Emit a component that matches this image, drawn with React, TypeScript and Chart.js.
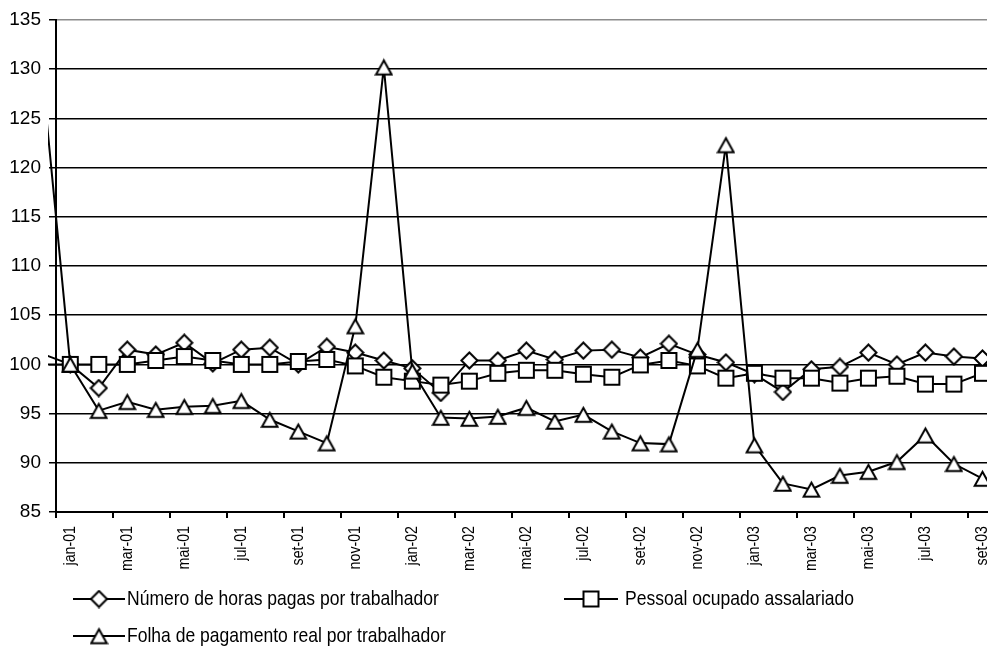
import React, { useEffect, useRef } from "react";
import { Chart, registerables } from "chart.js";

Chart.register(...registerables);

// Month categories (index 0 = dez-00, just before the visible range)
const months = [
  "dez-00",
  "jan-01", "fev-01", "mar-01", "abr-01", "mai-01", "jun-01", "jul-01", "ago-01", "set-01", "out-01", "nov-01", "dez-01",
  "jan-02", "fev-02", "mar-02", "abr-02", "mai-02", "jun-02", "jul-02", "ago-02", "set-02", "out-02", "nov-02", "dez-02",
  "jan-03", "fev-03", "mar-03", "abr-03", "mai-03", "jun-03", "jul-03", "ago-03", "set-03",
];

const horasPagas = [
  101.1,
  100.0, 97.6, 101.5, 101.0, 102.2, 100.1, 101.5, 101.7, 100.0, 101.8, 101.2, 100.4,
  99.6, 97.1, 100.4, 100.4, 101.4, 100.5, 101.4, 101.5, 100.7, 102.1, 101.0, 100.2,
  99.0, 97.2, 99.5, 99.75, 101.2, 100.0, 101.2, 100.8, 100.6,
];

const pessoalOcupado = [
  100.0,
  100.0, 100.0, 100.0, 100.4, 100.8, 100.4, 100.0, 100.0, 100.3, 100.5, 99.85, 98.7,
  98.3, 97.9, 98.3, 99.1, 99.4, 99.4, 99.0, 98.7, 99.95, 100.4, 99.85, 98.6,
  99.1, 98.6, 98.6, 98.1, 98.6, 98.8, 98.0, 98.0, 99.1,
];

const folhaPagamento = [
  130.0,
  100.0, 95.3, 96.2, 95.4, 95.7, 95.8, 96.3, 94.4, 93.2, 92.0, 103.9, 130.2,
  99.3, 94.6, 94.5, 94.7, 95.6, 94.2, 94.9, 93.2, 92.0, 91.9, 101.5, 122.3,
  91.8, 87.9, 87.3, 88.7, 89.1, 90.1, 92.8, 89.9, 88.4,
];

const seriesNames = [
  "Número de horas pagas por trabalhador",
  "Pessoal ocupado assalariado",
  "Folha de pagamento real por trabalhador",
];

const yTicks = [85, 90, 95, 100, 105, 110, 115, 120, 125, 130, 135];
// label every second month: jan-01, mar-01, ... set-03 (indices relative to jan-01)
const labelIdx = [0, 2, 4, 6, 8, 10, 12, 14, 16, 18, 20, 22, 24, 26, 28, 30, 32];

const REGULAR = '"Liberation Sans", Arial, sans-serif';
const NARROW_SCALE = 0.835;

function makeMarker(kind: string): HTMLCanvasElement {
  const c = document.createElement("canvas");
  c.width = 19;
  c.height = 19;
  const g = c.getContext("2d")!;
  g.lineWidth = 2;
  g.strokeStyle = "#000";
  g.fillStyle = "#fff";
  g.lineJoin = "miter";
  g.beginPath();
  if (kind === "diamond") {
    g.moveTo(9.5, 1.5);
    g.lineTo(17.5, 9.5);
    g.lineTo(9.5, 17.5);
    g.lineTo(1.5, 9.5);
    g.closePath();
  } else if (kind === "square") {
    g.rect(2, 2, 15, 15);
  } else {
    g.moveTo(9.5, 2.8);
    g.lineTo(17.3, 16.8);
    g.lineTo(1.7, 16.8);
    g.closePath();
  }
  g.fill();
  g.stroke();
  return c;
}

const toPoints = (arr: number[]) => arr.map((v, i) => ({ x: i - 1, y: v }));

export default function App() {
  const ref = useRef<HTMLCanvasElement | null>(null);

  useEffect(() => {
    const canvas = ref.current;
    if (!canvas) return;
    const diamond = makeMarker("diamond");
    const square = makeMarker("square");
    const triangle = makeMarker("triangle");
    const markers = [diamond, square, triangle];

    // tick marks between categories + narrow rotated month labels
    const xAxisDecor = {
      id: "xAxisDecor",
      afterDraw(chart: any) {
        const ctx = chart.ctx;
        const xs = chart.scales.x;
        const bottom = chart.chartArea.bottom;
        ctx.save();
        ctx.strokeStyle = "#000";
        ctx.lineWidth = 2;
        labelIdx.forEach((i) => {
          const px = Math.round(xs.getPixelForValue(i - 0.5));
          ctx.beginPath();
          ctx.moveTo(px, bottom);
          ctx.lineTo(px, bottom + 6);
          ctx.stroke();
        });
        ctx.fillStyle = "#000";
        ctx.font = `17px ${REGULAR}`;
        ctx.textAlign = "right";
        ctx.textBaseline = "middle";
        labelIdx.forEach((i) => {
          const px = xs.getPixelForValue(i);
          ctx.save();
          ctx.translate(px, bottom + 14);
          ctx.rotate(-Math.PI / 2);
          ctx.scale(NARROW_SCALE, 1);
          ctx.fillText(months[i + 1], 0, 0);
          ctx.restore();
        });
        ctx.restore();
      },
    };

    const legendPlugin = {
      id: "customLegend",
      afterDraw(chart: any) {
        const ctx = chart.ctx;
        const items = [
          { x: 73, y: 599, w: 52, mx: 99, tx: 127 },
          { x: 564, y: 599, w: 54, mx: 591, tx: 625 },
          { x: 73, y: 636, w: 52, mx: 99, tx: 127 },
        ];
        ctx.save();
        items.forEach((it, k) => {
          ctx.strokeStyle = "#000";
          ctx.lineWidth = 2;
          ctx.beginPath();
          ctx.moveTo(it.x, it.y);
          ctx.lineTo(it.x + it.w, it.y);
          ctx.stroke();
          const m = markers[k];
          ctx.drawImage(m, it.mx - m.width / 2, it.y - m.height / 2);
          ctx.save();
          ctx.fillStyle = "#000";
          ctx.font = `21px ${REGULAR}`;
          ctx.textBaseline = "middle";
          ctx.textAlign = "left";
          ctx.translate(it.tx, it.y);
          ctx.scale(NARROW_SCALE, 1);
          ctx.fillText(seriesNames[k], 0, 0);
          ctx.restore();
        });
        ctx.restore();
      },
    };

    const ds = (k: number, values: number[], order: number) => ({
      label: seriesNames[k],
      data: toPoints(values),
      borderColor: "#000",
      borderWidth: 2,
      backgroundColor: "#fff",
      pointStyle: markers[k],
      pointRadius: (c: any) => (c.dataIndex === 0 ? 0 : 9),
      pointHoverRadius: (c: any) => (c.dataIndex === 0 ? 0 : 9),
      tension: 0,
      order,
      clip: { left: 8, top: 0, right: 0, bottom: 0 },
    });

    const chart = new Chart(canvas, {
      type: "line",
      data: {
        datasets: [
          ds(0, horasPagas, 2),
          ds(1, pessoalOcupado, 1),
          ds(2, folhaPagamento, 0),
        ],
      },
      options: {
        animation: false,
        responsive: false,
        devicePixelRatio: 1,
        layout: { padding: { left: 0, right: 0, top: 20, bottom: 0 } },
        plugins: {
          legend: { display: false },
          tooltip: { enabled: false },
        },
        scales: {
          x: {
            type: "linear",
            min: -0.5,
            max: 32.16,
            afterBuildTicks: (scale: any) => {
              scale.ticks = labelIdx.map((v) => ({ value: v }));
            },
            afterFit: (scale: any) => {
              scale.height = 136;
              scale.paddingLeft = 0;
              scale.paddingRight = 0;
            },
            grid: { display: false, drawTicks: false },
            border: { display: true, color: "#000", width: 2 },
            ticks: { display: false },
          },
          y: {
            type: "linear",
            min: 85,
            max: 135,
            afterBuildTicks: (scale: any) => {
              scale.ticks = yTicks.map((v) => ({ value: v }));
            },
            afterFit: (scale: any) => {
              scale.width = 56;
              scale.paddingTop = 0;
              scale.paddingBottom = 0;
            },
            grid: {
              color: (c: any) => (c.tick && c.tick.value === 135 ? "#8c8c8c" : "#000"),
              lineWidth: 1.5,
              tickLength: 7,
              tickColor: "#000",
              tickWidth: 1.5,
            },
            border: { display: true, color: "#000", width: 2 },
            ticks: {
              padding: 8,
              color: "#000",
              font: { family: REGULAR, size: 19 },
            },
          },
        },
      },
      plugins: [xAxisDecor, legendPlugin],
    } as any);

    return () => chart.destroy();
  }, []);

  return (
    <div style={{ position: "fixed", left: 0, top: 0, width: 998, height: 648, background: "#fff" }}>
      <canvas ref={ref} width={998} height={648} style={{ display: "block" }} />
    </div>
  );
}
